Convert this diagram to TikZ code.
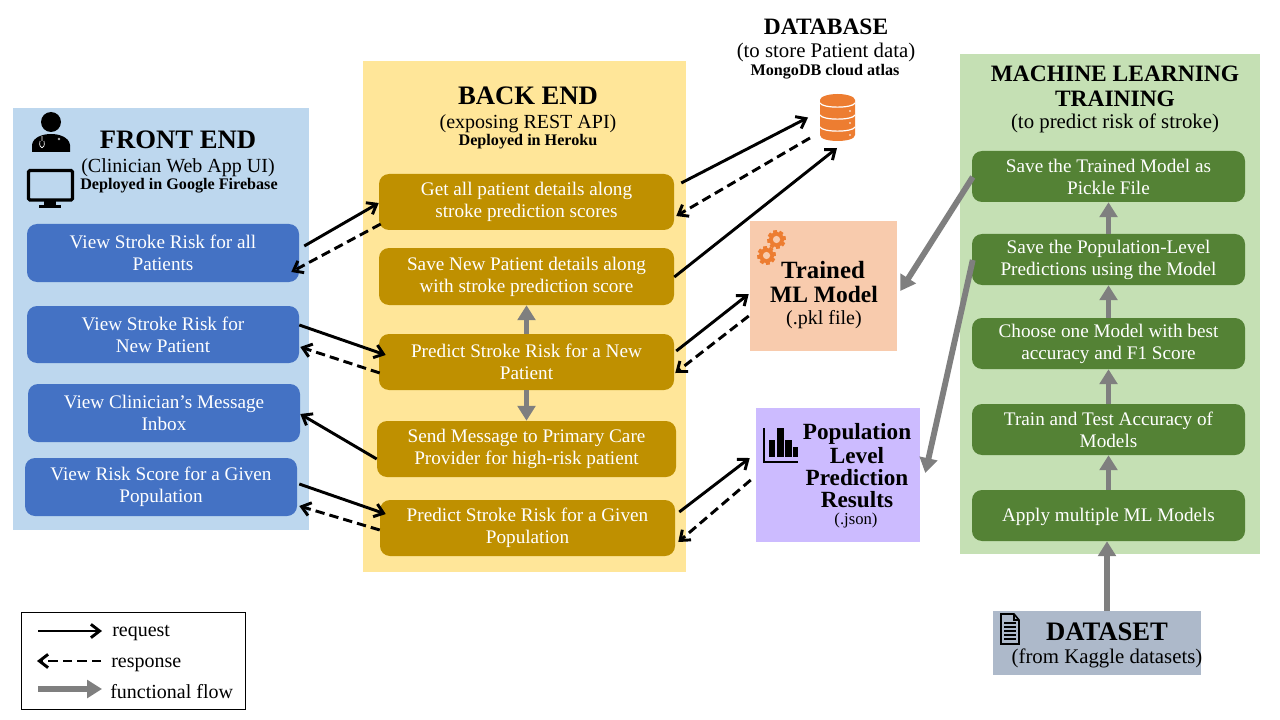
\documentclass[tikz,border=0pt]{standalone}
\usepackage{fontspec}
\setmainfont{Liberation Serif}
\usetikzlibrary{arrows.meta,calc}
\definecolor{fpanel}{HTML}{BDD7EE}
\definecolor{bpanel}{HTML}{FFE699}
\definecolor{mpanel}{HTML}{C5E0B4}
\definecolor{fbox}{HTML}{4472C4}
\definecolor{bbox}{HTML}{BF9000}
\definecolor{mbox}{HTML}{548235}
\definecolor{modelc}{HTML}{F8CBAD}
\definecolor{popc}{HTML}{CCBBFF}
\definecolor{dsc}{HTML}{ADB9CA}
\definecolor{orangei}{HTML}{ED7D31}
\definecolor{flow}{HTML}{7F7F7F}
\newcommand{\fs}[1]{\fontsize{#1}{#1}\selectfont}
\tikzset{
  sz/.style 2 args={minimum width=#1*0.75pt,minimum height=#2*0.75pt,inner sep=0pt},
  panel/.style={draw=none},
  uibox/.style={rounded corners=7.5pt,text=white,align=center,font=\fs{14.4}\linespread{1.14}\selectfont,execute at begin node={\rule{0pt}{12pt}}},
  title/.style={font=\bfseries\fs{20},inner sep=0pt,align=center},
  titlesm/.style={font=\bfseries\fs{17.6},inner sep=0pt,align=center},
  subt/.style={font=\fs{15},inner sep=0pt,align=center,yshift=-1.5pt},
  subtb/.style={font=\fs{15.6},inner sep=0pt,align=center,yshift=-1.3pt},
  dep/.style={font=\bfseries\fs{12.1},inner sep=0pt,align=center,yshift=-1.5pt},
  poptxt/.style={font=\bfseries\fs{17.4},inner sep=0pt,align=center,yshift=-1.2pt},
  legtxt/.style={font=\fs{15},inner sep=0pt,anchor=west},
  req/.style={line width=2.2pt,-{Straight Barb[length=6.5pt,width=10pt,line width=2.2pt]}},
  resp/.style={line width=2.2pt,dash pattern=on 7pt off 3.8pt,-{Straight Barb[length=6.5pt,width=10pt,line width=2.2pt]}},
  flowa/.style={line width=4.4pt,draw=flow,-{Triangle[length=11.2pt,width=13.2pt,fill=flow]}},
}
\newcommand{\gearicon}[2]{%
  \begin{scope}[shift={(#1,#2)}]
    \foreach \a in {0,45,...,315}{\fill[orangei,rotate=\a+10] (-1.9,-9.2) rectangle (1.9,9.2);}
    \fill[orangei] (0,0) circle (7.5);
    \fill[modelc] (0,0) circle (3.6);
  \end{scope}}
\begin{document}
\begin{tikzpicture}[x=0.75pt,y=-0.75pt]
\useasboundingbox (0,0) rectangle (1280,720);
% panels
\node[panel,fill=fpanel,sz={296}{422}] (front) at (161,319) {};
\node[panel,fill=bpanel,sz={323}{511}] (back) at (524.5,316.5) {};
\node[panel,fill=mpanel,sz={300}{500}] (ml) at (1110,304) {};
\node[panel,fill=modelc,sz={147}{130}] (model) at (823.5,286) {};
\node[panel,fill=popc,sz={164}{134}] (pop) at (838,475) {};
\node[panel,fill=dsc,sz={208}{64}] (ds) at (1097,643) {};
\node[draw=black,line width=0.7pt,fill=white,sz={224}{97}] (legend) at (133,660.5) {};
% front boxes
\node[uibox,fill=fbox,sz={272}{58}] (f1) at (163,253) {View Stroke Risk for all\\Patients};
\node[uibox,fill=fbox,sz={272}{57}] (f2) at (163,334.5) {View Stroke Risk for\\New Patient};
\node[uibox,fill=fbox,sz={272}{58}] (f3) at (164,413) {View Clinician’s Message\\Inbox};
\node[uibox,fill=fbox,sz={272}{58}] (f4) at (161,487) {View Risk Score for a Given\\Population};
% back boxes
\node[uibox,fill=bbox,sz={295}{56}] (b1) at (526.5,202) {Get all patient details along\\stroke prediction scores};
\node[uibox,fill=bbox,sz={295}{57}] (b2) at (526.5,276.5) {Save New Patient details along\\with stroke prediction score};
\node[uibox,fill=bbox,sz={295}{56}] (b3) at (526.5,362) {Predict Stroke Risk for a New\\Patient};
\node[uibox,fill=bbox,sz={299}{56}] (b4) at (526.5,449) {Send Message to Primary Care\\Provider for high-risk patient};
\node[uibox,fill=bbox,sz={295}{56}] (b5) at (527.5,528) {Predict Stroke Risk for a Given\\Population};
% ml boxes
\node[uibox,fill=mbox,sz={273}{51}] (m1) at (1108.5,176.5) {Save the Trained Model as\\Pickle File};
\node[uibox,fill=mbox,sz={273}{51}] (m2) at (1108.5,259.5) {Save the Population-Level\\Predictions using the Model};
\node[uibox,fill=mbox,sz={273}{51}] (m3) at (1108.5,343.5) {Choose one Model with best\\accuracy and F1 Score};
\node[uibox,fill=mbox,sz={273}{51}] (m4) at (1108.5,429.5) {Train and Test Accuracy of\\Models};
\node[uibox,fill=mbox,sz={273}{51}] (m5) at (1108.5,515.5) {Apply multiple ML Models};
% titles
\node[title] (t1) at (178,139.5) {FRONT END};
\node[subt] (t2) at (178,166) {(Clinician Web App UI)};
\node[dep] (t3) at (179,184) {Deployed in Google Firebase};
\node[title] (t4) at (528,96) {BACK END};
\node[subt] (t5) at (528,122) {(exposing REST API)};
\node[dep] (t6) at (528,140) {Deployed in Heroku};
\node[titlesm] (t7) at (826,27) {DATABASE};
\node[subtb] (t8) at (826,51) {(to store Patient data)};
\node[dep] (t9) at (825,70) {MongoDB cloud atlas};
\node[titlesm] (t10) at (1115,74) {MACHINE LEARNING};
\node[titlesm] (t11) at (1115,99) {TRAINING};
\node[subtb] (t12) at (1115,122) {(to predict risk of stroke)};
\node[font=\bfseries\fs{18.6},inner sep=0pt] (t13) at (823,270) {Trained};
\node[titlesm] (t14) at (824,294) {ML Model};
\node[subt] (t15) at (824,318) {(.pkl file)};
\node[poptxt] (t16) at (857,432) {Population};
\node[poptxt] (t17) at (857,454) {Level};
\node[poptxt] (t18) at (857,476) {Prediction};
\node[poptxt] (t19) at (857,498) {Results};
\node[font=\fs{12.5},inner sep=0pt] (t20) at (856,520) {(.json)};
\node[title] (t21) at (1107,632) {DATASET};
\node[subtb] (t22) at (1107,657) {(from Kaggle datasets)};
% icons
\node[inner sep=0pt,sz={35}{47}] (db) at (837.5,117.5) {};
\fill[orangei] (820,100) -- (820,135) .. controls (820,143) and (855,143) .. (855,135) -- (855,100) -- cycle;
\fill[orangei] (837.5,100) ellipse (17.5 and 6);
\foreach \yy in {0,12,24}{
  \draw[white,line width=0.9pt] (820,103+\yy) .. controls (822,108.5+\yy) and (853,108.5+\yy) .. (855,103+\yy);
  \fill[white] (850,111+\yy) circle (0.8);
}
\gearicon{776.5}{239.5}
\gearicon{766.5}{255.5}
% doctor
\fill[black] (51,122) circle (10);
\fill[black] (32,152) -- (32,145) .. controls (33,137) and (43,134) .. (51,134) .. controls (59,134) and (69,137) .. (70,145) -- (70,152) -- cycle;
\draw[white,line width=0.5pt] (42,136) -- (42,141) (40,141) .. controls (38,150) and (46,150) .. (44,141);
\fill[white!70!black] (59,139) circle (1.3);
% monitor
\draw[black,line width=2.4pt,rounded corners=1pt] (28.5,170.5) rectangle (72.5,200);
\fill[black] (44,200) rectangle (56,205);
\fill[black] (39,205) rectangle (61,208);
% chart
\draw[black,line width=1.6pt] (764,428) -- (764,462) -- (798,462);
\fill[black] (768.5,440) rectangle (775,457);
\fill[black] (777,428) rectangle (783.5,457);
\fill[black] (785,440) rectangle (791.5,457);
\fill[black] (793,447) rectangle (798,457);
% document
\draw[black,line width=1.2pt,fill=dsc] (1001,614) -- (1014,614) -- (1019,620) -- (1019,644) -- (1001,644) -- cycle;
\draw[black,line width=0.9pt] (1014,614) -- (1014,620) -- (1019,620);
\foreach \yy in {623,627,631,635,639}{\draw[black,line width=1pt] (1004,\yy) -- (1016,\yy);}
% legend
\coordinate (l1a) at (38,631); \coordinate (l1b) at (102,631);
\coordinate (l2a) at (101,661); \coordinate (l2b) at (37,661);
\coordinate (l3a) at (38,689); \coordinate (l3b) at (102,689);
\draw[req] (l1a) -- (l1b);
\draw[resp] (l2a) -- (l2b);
\draw[flowa] (l3a) -- (l3b);
\node[legtxt] (lt1) at (112,633) {request};
\node[legtxt] (lt2) at (111,665) {response};
\node[legtxt] (lt3) at (110,692) {functional flow};
% request/response
\draw[req] ($(f1.east)+(5,-7)$) -- ($(b1.west)+(0,1)$);
\draw[resp] ($(b1.west)+(2,22)$) -- ($(f1.east)+(-8,19)$);
\draw[req] ($(f2.east)+(0,-9.5)$) -- ($(b3.west)+(7,-7)$);
\draw[resp] ($(b3.west)+(1,11)$) -- ($(f2.east)+(1,12.5)$);
\draw[req] ($(b4.west)+(0,10)$) -- ($(f3.east)+(0,1)$);
\draw[req] ($(f4.east)+(2,-3)$) -- ($(b5.west)+(6,-14)$);
\draw[resp] ($(b5.west)+(0,2)$) -- ($(f4.east)+(2,19)$);
\draw[req] ($(b1.east)+(7,-19)$) -- ($(db.center)+(-29.5,0)$);
\draw[resp] ($(db.center)+(-27.5,20.5)$) -- ($(b1.east)+(2,14)$);
\draw[req] ($(b2.east)+(0,0.5)$) -- ($(db.center)+(-0.5,30.5)$);
\draw[req] ($(b3.east)+(2,-11)$) -- ($(model.west)+(-1,8)$);
\draw[resp] ($(model.west)+(-1,30)$) -- ($(b3.east)+(1,11)$);
\draw[req] ($(b5.east)+(4,-16)$) -- ($(pop.west)+(-6,-17)$);
\draw[resp] ($(pop.west)+(-5,5)$) -- ($(b5.east)+(3,14)$);
% functional flow
\draw[flowa] (b3.north) -- (b2.south);
\draw[flowa] (b3.south) -- (b4.north);
\draw[flowa] (m5.north) -- (m4.south);
\draw[flowa] (m4.north) -- (m3.south);
\draw[flowa] (m3.north) -- (m2.south);
\draw[flowa] (m2.north) -- (m1.south);
\draw[flowa] ($(ds.north)+(10,0)$) -- ($(m5.south)+(-1.5,0)$);
\draw[flowa] ($(m1.west)+(1,0.5)$) -- ($(model.east)+(3,5)$);
\draw[flowa] ($(m2.west)+(1,0.5)$) -- ($(pop.east)+(5,-2)$);
\end{tikzpicture}
\end{document}
